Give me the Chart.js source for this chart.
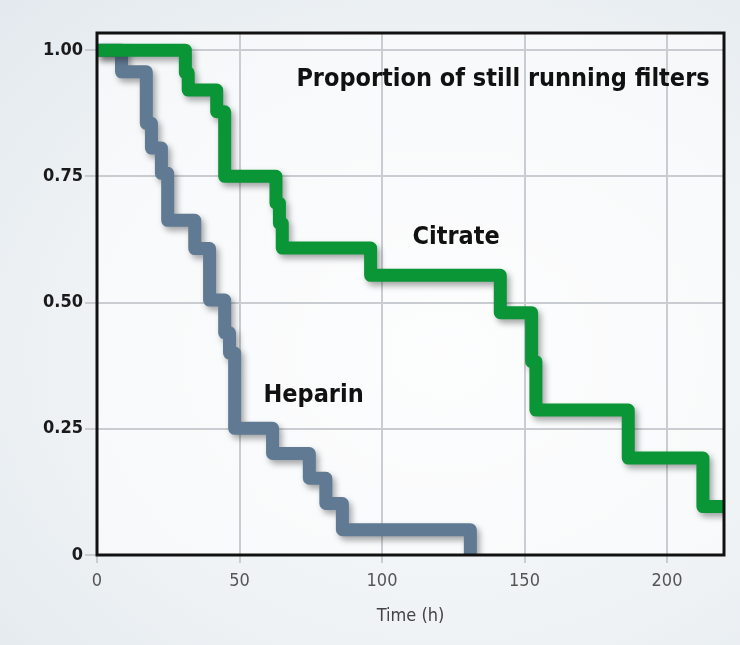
<!DOCTYPE html>
<html>
<head>
<meta charset="utf-8">
<script src="https://cdn.jsdelivr.net/npm/chart.js@4"></script>
<style>
  html, body { margin: 0; padding: 0; }
  body {
    width: 740px; height: 645px; overflow: hidden;
    background: radial-gradient(ellipse at 60% 55%, #fafbfc 0%, #eef2f5 60%, #e3e9ee 100%);
  }
  #wrap { position: relative; width: 740px; height: 645px; }
</style>
</head>
<body>
<div id="wrap"><canvas id="c" width="740" height="645"></canvas></div>
<script>
// Kaplan-Meier style steps: time of drop (h) and proportion left after it
const citrateTimes = [0, 31, 32, 42, 44.8, 44.8, 62.8, 64, 65, 96, 141.5, 152.5, 154, 186.4, 212.6, 220];
const citrateValues = [1.00, 0.955, 0.921, 0.878, 0.828, 0.75, 0.697, 0.657, 0.608, 0.554, 0.48, 0.383, 0.287, 0.192, 0.096, 0.096];

const heparinTimes = [0, 8.6, 17.3, 19.1, 22.6, 24.8, 34.3, 39.5, 44.8, 46.5, 48.3, 61.6, 74.5, 80.3, 86.1, 131];
const heparinValues = [1.00, 0.957, 0.855, 0.806, 0.756, 0.663, 0.607, 0.505, 0.44, 0.40, 0.251, 0.201, 0.152, 0.102, 0.05, 0];

const xTicks = [0, 50, 100, 150, 200];
const yTicks = [0, 0.25, 0.5, 0.75, 1];

const toPoints = (xs, ys) => xs.map((x, i) => ({ x: x, y: ys[i] }));

const narrow = '"Liberation Sans Narrow", "DejaVu Sans Condensed", "Liberation Sans", sans-serif';

// chart area background + frame + labels
const decor = {
  id: 'decor',
  beforeDraw(chart) {
    const { ctx, chartArea: a } = chart;
    ctx.save();
    ctx.fillStyle = 'rgba(255,255,255,0.55)';
    ctx.fillRect(a.left, a.top, a.right - a.left, a.bottom - a.top);
    ctx.restore();
  },
  afterDatasetsDraw(chart) {
    const { ctx, chartArea: a, scales } = chart;
    ctx.save();
    ctx.strokeStyle = '#111';
    ctx.lineWidth = 3;
    ctx.strokeRect(a.left, a.top, a.right - a.left, a.bottom - a.top);
    ctx.fillStyle = '#111';
    ctx.textBaseline = 'middle';
    ctx.textAlign = 'center';
    ctx.font = 'bold 25px ' + narrow;
    ctx.fillText('Proportion of still running filters', 503, 79);
    ctx.font = 'bold 25px ' + narrow;
    ctx.fillText('Citrate', scales.x.getPixelForValue(126), scales.y.getPixelForValue(0.628));
    ctx.fillText('Heparin', scales.x.getPixelForValue(76), scales.y.getPixelForValue(0.315));
    ctx.restore();
  }
};

const shadow = {
  id: 'shadow',
  beforeDatasetDraw(chart) {
    const ctx = chart.ctx;
    ctx.save();
    ctx.shadowColor = 'rgba(0,0,0,0.35)';
    ctx.shadowBlur = 6;
    ctx.shadowOffsetX = 3;
    ctx.shadowOffsetY = 4;
  },
  afterDatasetDraw(chart) {
    chart.ctx.restore();
  }
};

new Chart(document.getElementById('c').getContext('2d'), {
  type: 'line',
  data: {
    datasets: [
      {
        label: 'Citrate',
        data: toPoints(citrateTimes, citrateValues),
        borderColor: '#0a9537',
        borderWidth: 13,
        stepped: 'before',
        pointRadius: 0,
        fill: false,
        borderJoinStyle: 'round',
        borderCapStyle: 'butt'
      },
      {
        label: 'Heparin',
        data: toPoints(heparinTimes, heparinValues),
        borderColor: '#5f7a92',
        borderWidth: 13,
        stepped: 'before',
        pointRadius: 0,
        fill: false,
        borderJoinStyle: 'round',
        borderCapStyle: 'butt'
      }
    ]
  },
  options: {
    responsive: false,
    animation: false,
    layout: { padding: { top: 33, right: 16, left: 0, bottom: 14 } },
    plugins: {
      legend: { display: false },
      tooltip: { enabled: false }
    },
    scales: {
      x: {
        type: 'linear',
        min: 0,
        max: 220,
        afterBuildTicks: s => { s.ticks = xTicks.map(v => ({ value: v })); },
        afterFit: s => { s.height = 76; },
        grid: { color: '#c9cdd1', lineWidth: 2, tickLength: 8, tickColor: '#c9cdd1' },
        border: { display: false },
        ticks: {
          color: '#555',
          font: { family: narrow, size: 18 },
          padding: 8,
          maxRotation: 0
        },
        title: {
          display: true,
          text: 'Time (h)',
          color: '#444',
          font: { family: narrow, size: 18 },
          padding: { top: 6 }
        }
      },
      y: {
        min: 0,
        max: 1.034,
        afterBuildTicks: s => { s.ticks = yTicks.map(v => ({ value: v })); },
        afterFit: s => { s.width = 97; },
        grid: { color: '#c9cdd1', lineWidth: 2, tickLength: 12, tickColor: '#c9cdd1' },
        border: { display: false },
        ticks: {
          color: '#1a1a1a',
          font: { family: narrow, size: 18, weight: 'bold' },
          padding: 2,
          callback: v => v === 0 ? '0' : v.toFixed(2)
        }
      }
    }
  },
  plugins: [decor, shadow]
});
</script>
</body>
</html>
